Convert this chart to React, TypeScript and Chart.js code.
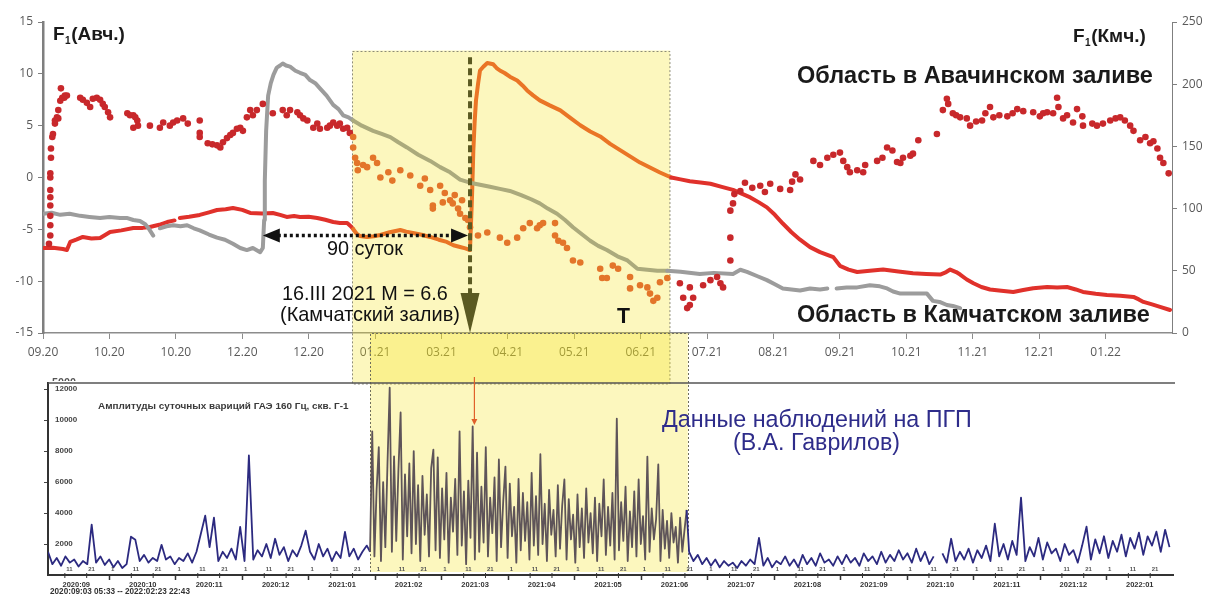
import React, { useEffect, useRef } from 'react';
import { Chart, registerables } from 'chart.js';

Chart.register(...registerables);

// ---------- top chart: axes ----------
const topMonthLabels = ['09.20', '10.20', '10.20', '12.20', '12.20', '01.21', '03.21', '04.21', '05.21', '06.21', '07.21', '08.21', '09.21', '10.21', '11.21', '12.21', '01.22'];
const leftAxisRange = [-15, 15];
const rightAxisRange = [0, 250];

// highlighted periods (month index units)
const topBoxRange = [4.66, 9.44];
const bottomBoxRange = [4.92, 9.7];
const quakeMonth = 6.43;

// ---------- top chart: series ----------
// F1 Avacha, red dots (left axis)
const avachaDots: [number, number][] = [
  [0.09, -6.4], [0.11, -5.6], [0.11, -4.6], [0.11, -3.7], [0.11, -2.7], [0.11, -1.9], [0.11, -1.2], [0.11, 0.0], [0.11, 0.4], [0.12, 1.9], [0.12, 2.8], [0.14, 3.9], [0.15, 4.2], [0.18, 5.2], [0.18, 5.5], [0.21, 5.8], [0.23, 5.7], [0.23, 6.5], [0.26, 7.4], [0.29, 7.7], [0.27, 8.6], [0.32, 7.7], [0.33, 7.9], [0.36, 7.9],
  [0.56, 7.7], [0.6, 7.5], [0.66, 7.2], [0.71, 6.8], [0.75, 7.6], [0.81, 7.7], [0.86, 7.5], [0.9, 7.1], [0.93, 6.8], [0.98, 6.3], [1.01, 5.8],
  [1.27, 6.2], [1.31, 6.0], [1.36, 6.0], [1.36, 4.8], [1.39, 5.8], [1.42, 5.5], [1.43, 5.0], [1.61, 5.0], [1.76, 4.8], [1.81, 5.3], [1.91, 5.0], [1.96, 5.3], [2.02, 5.5], [2.11, 5.7], [2.18, 5.2], [2.36, 5.5], [2.36, 4.3], [2.36, 3.9],
  [2.48, 3.3], [2.55, 3.2], [2.62, 3.1], [2.67, 2.9], [2.71, 3.4], [2.77, 3.8], [2.82, 4.1], [2.86, 4.3], [2.92, 4.7], [2.97, 4.8], [3.01, 4.5], [3.07, 5.8], [3.12, 6.5], [3.16, 6.0], [3.22, 6.5], [3.31, 7.1],
  [3.46, 6.2], [3.61, 6.5], [3.67, 6.0], [3.72, 6.5], [3.83, 6.3], [3.87, 6.0], [3.92, 5.7], [3.98, 5.5], [4.07, 4.8], [4.13, 5.2], [4.17, 4.7], [4.28, 4.8], [4.32, 5.0], [4.37, 5.3], [4.43, 5.0], [4.47, 5.2], [4.52, 4.7], [4.58, 4.8], [4.62, 4.3],
  [4.67, 3.9], [4.67, 2.9], [4.7, 1.9], [4.73, 1.4], [4.74, 0.7], [4.82, 1.2], [4.88, 1.0], [4.97, 1.9], [5.03, 1.4], [5.08, 0.0], [5.2, 0.5], [5.26, -0.3],
  [5.38, 0.7], [5.53, 0.2], [5.68, -0.8], [5.75, -0.1], [5.83, -1.2], [5.87, -2.7], [5.87, -3.0], [5.98, -0.8], [6.02, -2.4], [6.05, -1.5], [6.13, -2.2], [6.17, -2.5], [6.2, -1.7], [6.25, -3.0], [6.28, -3.5], [6.31, -2.2], [6.36, -3.9], [6.4, -4.1], [6.43, -4.8],
  [6.55, -5.6], [6.69, -5.3], [6.88, -5.8], [6.99, -6.3], [7.14, -5.8], [7.23, -4.9], [7.33, -4.4], [7.44, -4.9], [7.48, -4.6], [7.53, -4.4], [7.71, -4.4], [7.71, -5.6], [7.76, -6.1], [7.83, -6.3], [7.89, -6.8], [7.98, -8.0], [8.09, -8.2], [8.39, -8.8], [8.42, -9.7], [8.49, -9.7], [8.58, -8.5], [8.66, -8.8], [8.84, -9.6], [8.84, -10.7], [8.99, -10.4], [9.1, -10.6], [9.14, -11.2], [9.19, -11.9], [9.25, -11.6], [9.29, -10.1], [9.4, -9.7],
  [9.59, -10.2], [9.64, -11.6], [9.74, -10.6], [9.79, -11.6], [9.7, -12.6], [9.74, -12.3], [9.94, -10.4], [10.05, -9.9], [10.15, -9.6], [10.2, -10.2], [10.24, -10.6], [10.35, -8.0], [10.35, -5.8], [10.35, -3.2], [10.39, -2.5], [10.41, -1.6],
  [10.5, -1.3], [10.57, -0.5], [10.68, -1.0], [10.8, -0.8], [10.87, -1.4], [10.95, -0.6], [11.1, -1.1], [11.25, -1.2], [11.28, -0.4], [11.33, 0.3], [11.4, -0.2],
  [11.6, 1.6], [11.7, 1.2], [11.81, 1.9], [11.9, 2.2], [12.0, 2.4], [12.05, 1.6], [12.11, 1.0], [12.15, 0.5], [12.26, 0.7], [12.35, 0.5], [12.38, 1.2], [12.56, 1.6], [12.64, 1.9], [12.71, 2.9], [12.79, 2.6], [12.86, 1.5], [12.91, 1.4], [12.95, 1.9], [13.06, 2.1], [13.1, 2.3], [13.18, 3.6], [13.46, 4.2], [13.55, 6.5], [13.61, 7.6], [13.63, 7.1], [13.7, 6.2], [13.75, 6.0], [13.81, 5.8], [13.91, 5.7], [13.96, 5.0], [14.05, 5.4], [14.14, 5.5], [14.19, 6.2], [14.26, 6.8], [14.31, 5.8], [14.4, 6.0], [14.52, 5.9], [14.6, 6.2], [14.67, 6.6], [14.76, 6.4], [14.91, 6.3], [15.01, 5.9], [15.06, 6.2], [15.12, 6.3], [15.21, 6.2], [15.27, 7.7], [15.29, 6.8], [15.36, 5.7], [15.42, 6.0], [15.51, 5.3], [15.57, 6.6], [15.65, 5.9], [15.66, 5.0], [15.8, 5.2], [15.87, 5.0], [15.96, 5.2], [16.07, 5.5], [16.15, 5.7], [16.22, 5.8], [16.29, 5.5], [16.37, 5.0], [16.42, 4.5], [16.52, 3.6], [16.6, 3.9], [16.67, 3.3], [16.72, 3.5], [16.78, 2.8], [16.82, 1.9], [16.87, 1.4], [16.95, 0.4],
];

// gray line (left axis)
const grayLine: [number, number | null][] = [
  [0, -3.5], [0.13, -3.4], [0.26, -3.6], [0.4, -3.5], [0.56, -3.7], [0.7, -3.8], [0.86, -3.9], [1.0, -3.8], [1.16, -3.9], [1.26, -3.9], [1.36, -4.1], [1.46, -4.2], [1.54, -4.5], [1.6, -5.0], [1.66, -5.6], [1.7, null], [1.76, -4.9], [1.86, -4.7], [1.96, -4.6], [2.07, -4.7], [2.17, -4.6], [2.27, -4.9], [2.36, -5.1], [2.5, -5.5], [2.62, -5.8], [2.74, -6.0], [2.86, -6.4], [2.97, -6.8], [3.07, -7.0], [3.16, -6.8], [3.27, -7.2], [3.31, -6.8],
  [3.33, -4.1], [3.34, -0.3], [3.36, 4.5], [3.39, 7.9], [3.43, 9.1], [3.47, 9.9], [3.52, 10.6], [3.57, 10.8], [3.61, 11.0], [3.66, 10.8], [3.72, 10.7], [3.8, 10.3], [3.87, 10.1], [3.95, 9.9], [4.02, 9.4], [4.1, 9.1], [4.17, 8.6], [4.27, 7.9], [4.37, 7.0], [4.45, 6.6], [4.52, 6.0], [4.6, 5.8], [4.67, 5.5],
  [4.8, 5.0], [4.97, 4.5], [5.1, 4.2], [5.23, 3.9], [5.35, 3.4], [5.48, 2.9], [5.65, 2.2], [5.83, 1.6], [5.98, 1.0], [6.13, 0.5], [6.28, -0.2], [6.43, -0.5], [6.58, -0.7], [6.73, -0.9], [6.88, -1.1], [7.03, -1.3], [7.2, -1.7], [7.35, -2.1], [7.48, -2.5], [7.6, -3.0], [7.74, -3.5], [7.86, -4.1], [7.98, -4.8], [8.1, -5.4], [8.24, -6.1], [8.36, -6.6], [8.49, -7.0], [8.65, -7.6], [8.8, -8.0], [8.95, -8.8], [9.1, -8.9], [9.25, -9.0], [9.4, -9.0],
  [9.6, -9.1], [9.89, -9.3], [10.1, -9.2], [10.39, -9.3], [10.5, -8.9], [10.6, -9.1], [10.75, -9.5], [10.9, -9.9], [11.02, -10.3], [11.14, -10.7], [11.27, -10.8], [11.4, -10.9], [11.55, -10.7], [11.7, -10.8], [11.81, -10.7], [11.88, null], [11.95, -10.7], [12.1, -10.6], [12.26, -10.6], [12.45, -10.4], [12.6, -10.5], [12.71, -10.7], [12.8, -11.0], [12.91, -11.2], [13.1, -11.2], [13.31, -11.2], [13.4, -11.9], [13.5, -12.0], [13.61, -12.3], [13.7, -12.4], [13.81, -12.6],
];

// red line (right axis)
const redLine: [number, number | null][] = [
  [0, 68.3], [0.15, 68.5], [0.3, 67.5], [0.36, 66.7], [0.41, 73.2], [0.5, 75], [0.6, 77.2], [0.73, 76], [0.86, 76.4], [1.01, 81.2], [1.18, 82.5], [1.36, 84.4], [1.5, 84.5], [1.61, 85.2], [1.75, 87], [1.87, 89.2], [1.98, 90.5], [2.02, null], [2.06, 92.5], [2.2, 93.5], [2.36, 94.9], [2.5, 97], [2.62, 98.9], [2.75, 99.5], [2.86, 100.5], [3.0, 99], [3.12, 96.5], [3.3, 96], [3.46, 96.5], [3.57, 95], [3.67, 93.3], [3.78, 94], [3.87, 93.3], [4.0, 93.5], [4.13, 92.5], [4.25, 91], [4.37, 89.2], [4.47, 88.5], [4.58, 88.4], [4.63, 86],
  [4.67, 83.6], [4.72, 80], [4.77, 78.0], [4.88, 77.2], [4.98, 77.8], [5.08, 78.8], [5.22, 81], [5.38, 82.8], [5.47, 81.5], [5.57, 80.4], [5.7, 79], [5.83, 77.2], [5.96, 75], [6.08, 73.2], [6.18, 70.5], [6.28, 69.1], [6.36, 68], [6.43, 66.7],
  [6.46, 110], [6.48, 147], [6.5, 170], [6.52, 187], [6.55, 200], [6.58, 211], [6.63, 214], [6.69, 217], [6.78, 216], [6.83, 213], [6.88, 211], [6.95, 209], [7.03, 206], [7.14, 203], [7.22, 199], [7.29, 195], [7.38, 191], [7.48, 187], [7.63, 183], [7.79, 179], [7.94, 173], [8.09, 167], [8.24, 162], [8.39, 158], [8.54, 152], [8.69, 147], [8.84, 142], [8.99, 137], [9.14, 133], [9.29, 129], [9.46, 125],
  [9.6, 123.5], [9.74, 122], [9.9, 121], [10.05, 120], [10.22, 117.5], [10.39, 115], [10.52, 112], [10.65, 109], [10.78, 105], [10.9, 101], [11.02, 95], [11.14, 88], [11.27, 81], [11.4, 75], [11.55, 69], [11.7, 65], [11.8, 63], [11.9, 61], [12.0, 54], [12.13, 51], [12.26, 49], [12.45, 50], [12.65, 51], [12.88, 49.5], [13.1, 48], [13.3, 47.5], [13.51, 47], [13.6, 49], [13.66, 51], [13.75, 49], [13.81, 47], [13.91, 43], [14.01, 40], [14.13, 37], [14.26, 35], [14.43, 34], [14.61, 33], [14.76, 34.5], [14.91, 36], [15.12, 37], [15.27, 36.5], [15.42, 37], [15.55, 35], [15.66, 33], [15.85, 31.5], [16.02, 30.5], [16.22, 30], [16.42, 29], [16.5, 27], [16.57, 25], [16.7, 23], [16.82, 21], [16.97, 18.5],
];

// ---------- bottom chart ----------
const gaeMonthLabels = ['2020:09', '2020:10', '2020:11', '2020:12', '2021:01', '2021:02', '2021:03', '2021:04', '2021:05', '2021:06', '2021:07', '2021:08', '2021:09', '2021:10', '2021:11', '2021:12', '2022:01'];
const gaeYTicks = [2000, 4000, 6000, 8000, 10000, 12000];
const gaeStartMonth = 0.075; // 2020-09-03
const daysPerMonth = 30.44;
// every 2 days, 2020-09-03 .. 2021-01-27
const gaeBefore = [
  1500, 700, 1100, 600, 1200, 800, 1000, 550, 900, 700, 3250, 800, 1200, 650, 1000, 500, 900, 450, 700, 2470,
  2270, 900, 1300, 800, 1100, 900, 1950, 1000, 1200, 700, 1100, 900, 1400, 800, 1500, 2660, 3830, 1800, 3700, 900,
  1500, 1100, 1700, 1000, 3110, 900, 7720, 1000, 1600, 1200, 2000, 1100, 2340, 1300, 1800, 900, 1600, 1200, 1900, 2860,
  1500, 1000, 2000, 1200, 1700, 900, 1500, 1100, 2790, 1200, 1700, 1000, 1500, 1900,
];
// daily, highlighted period
const gaeBox = [
  1500, 9280, 1200, 5500, 8250, 900, 6000, 1800, 7270, 12100, 1500, 7660, 2200, 6800, 10500, 1000, 6500, 2500, 7200, 1400,
  8000, 2000, 5800, 900, 6400, 2600, 5200, 1200, 6900, 8100, 1600, 7600, 1100, 5600, 2300, 6600, 800, 5000, 2800, 6200,
  1300, 9280, 1900, 5400, 700, 6100, 2400, 9600, 1000, 7900, 1500, 5700, 2100, 8250, 1200, 5000, 2700, 6300, 900, 7460,
  1800, 4800, 7000, 1100, 5900, 2500, 4400, 800, 6200, 1600, 5300, 2200, 4700, 1000, 6600, 1900, 5100, 1300, 7800, 2000,
  4600, 900, 5500, 2600, 4200, 1200, 5800, 1700, 4500, 6170, 1000, 4900, 2300, 3900, 800, 5200, 1800, 4300, 1100, 5600,
  2100, 4000, 1400, 5000, 900, 4600, 2500, 6170, 1300, 4400, 1900, 5300, 1000, 10100, 1600, 4700, 2200, 5700, 900, 4100,
  1800, 5400, 1200, 6170, 2000, 3800, 1000, 7650, 1500, 4300, 2300, 3600, 7140, 900, 4200, 1700, 3500, 1100, 4000, 2100,
  3100, 800, 3700, 1500, 2900, 4200,
];
// every 2 days, after the highlighted period
const gaeAfter: (number | null)[] = [
  1500, 900, 1300, 700, 1100, 600, 1000, 500, 900, 600, 800, 450, 900, 600, 1000, 700, 2400, 600, 1100, 500,
  900, 700, 1200, 600, 1000, 500, 1300, 700, 1100, 600, 1400, 800, 1000, 600, 1200, 700, 1300, 800, 1100, 600,
  1400, 900, 1200, 700, 1500, 800, 1300, 900, 1600, 1000, 1400, 800, 1700, 900, 1500, 700, 1200, null, 1400, 800,
  2340, 900, 1500, 1000, 1700, 800, 1600, 1100, 1900, 900, 3310, 1200, 2000, 1000, 2200, 1300, 5000, 900, 1800, 1200,
  2400, 1000, 2100, 1400, 1700, 900, 2000, 1300, 1600, 800, 1900, 3120, 1000, 2300, 1400, 2500, 1100, 2200, 1500, 2600,
  1200, 2400, 1700, 2730, 1300, 2500, 1900, 2800, 1500, 2920, 1800,
];

// ---------- colours ----------
const RED_DOT = '#c8282b';
const ORANGE_DOT = '#e3752a';
const RED_LINE = '#e0312b';
const ORANGE_LINE = '#ea7526';
const GRAY_LINE = '#9c9c9c';
const OLIVE_LINE = '#abaa7c';
const BOX_FILL = 'rgba(245,226,23,0.28)';
const NAVY = '#2c2a80';
const BOX_NAVY = '#5e5459';
const FONT = "'Liberation Sans', Arial, sans-serif";
const TICK_FONT = "'Open Sans', sans-serif";

function fitText(ctx: CanvasRenderingContext2D, text: string, x: number, baseline: number, width: number, weight: string, color: string) {
  ctx.font = `${weight} 20px ${FONT}`;
  const w = ctx.measureText(text).width;
  const size = (20 * width) / w;
  ctx.font = `${weight} ${size.toFixed(2)}px ${FONT}`;
  ctx.fillStyle = color;
  ctx.textAlign = 'left';
  ctx.textBaseline = 'alphabetic';
  ctx.fillText(text, x, baseline);
}

function drawF1(ctx: CanvasRenderingContext2D, rest: string, x: number, baseline: number) {
  ctx.fillStyle = '#1a1a1a';
  ctx.textAlign = 'left';
  ctx.textBaseline = 'alphabetic';
  ctx.font = `bold 19px ${FONT}`;
  ctx.fillText('F', x, baseline);
  let cx = x + ctx.measureText('F').width + 0.5;
  ctx.font = `bold 10px ${FONT}`;
  ctx.fillText('1', cx, baseline + 4);
  cx += ctx.measureText('1').width + 0.5;
  ctx.font = `bold 19px ${FONT}`;
  ctx.fillText(rest, cx, baseline);
}

const inTopBox = (v: number) => v >= topBoxRange[0] && v <= topBoxRange[1];
const inBottomBox = (v: number) => v >= bottomBoxRange[0] && v <= bottomBoxRange[1];

const topPlugin = {
  id: 'topDecor',
  beforeDatasetsDraw(chart: any) {
    const { ctx, chartArea, scales } = chart;
    const x0 = scales.x.getPixelForValue(topBoxRange[0]);
    const x1 = scales.x.getPixelForValue(topBoxRange[1]);
    const y0 = scales.y.getPixelForValue(12.25);
    const y1 = chartArea.bottom + 50;
    ctx.save();
    ctx.fillStyle = BOX_FILL;
    ctx.fillRect(x0, y0, x1 - x0, y1 - y0);
    ctx.setLineDash([2, 2]);
    ctx.strokeStyle = '#8d8c78';
    ctx.lineWidth = 1;
    ctx.strokeRect(Math.round(x0) + 0.5, Math.round(y0) + 0.5, x1 - x0, y1 - y0);
    ctx.restore();
  },
  afterDatasetsDraw(chart: any) {
    const { ctx, chartArea, scales } = chart;
    const { x, y } = scales;
    ctx.save();
    // earthquake dashed arrow
    const qx = x.getPixelForValue(quakeMonth);
    const qTop = y.getPixelForValue(11.6);
    const headTop = chartArea.bottom - 40;
    ctx.strokeStyle = '#5b5a22';
    ctx.lineWidth = 4;
    ctx.setLineDash([7, 4]);
    ctx.beginPath();
    ctx.moveTo(qx, qTop);
    ctx.lineTo(qx, headTop);
    ctx.stroke();
    ctx.setLineDash([]);
    ctx.fillStyle = '#5b5a22';
    ctx.beginPath();
    ctx.moveTo(qx - 9.5, headTop);
    ctx.lineTo(qx + 9.5, headTop);
    ctx.lineTo(qx, chartArea.bottom);
    ctx.closePath();
    ctx.fill();

    // 90 days arrow
    const ay = y.getPixelForValue(-5.6);
    const ax0 = x.getPixelForValue(3.31);
    const ax1 = x.getPixelForValue(6.4);
    ctx.strokeStyle = '#111';
    ctx.lineWidth = 3.5;
    ctx.setLineDash([3, 3]);
    ctx.beginPath();
    ctx.moveTo(ax0 + 15, ay);
    ctx.lineTo(ax1 - 15, ay);
    ctx.stroke();
    ctx.setLineDash([]);
    ctx.fillStyle = '#111';
    ctx.beginPath();
    ctx.moveTo(ax0, ay);
    ctx.lineTo(ax0 + 17, ay - 7);
    ctx.lineTo(ax0 + 17, ay + 7);
    ctx.closePath();
    ctx.fill();
    ctx.beginPath();
    ctx.moveTo(ax1, ay);
    ctx.lineTo(ax1 - 17, ay - 7);
    ctx.lineTo(ax1 - 17, ay + 7);
    ctx.closePath();
    ctx.fill();

    // texts
    drawF1(ctx, '(Авч.)', 53, 40);
    drawF1(ctx, '(Кмч.)', 1073, 42);
    fitText(ctx, 'Область в Авачинском заливе', 797, 83, 356, 'bold', '#1a1a1a');
    fitText(ctx, 'Область в Камчатском заливе', 797, 322, 353, 'bold', '#1a1a1a');
    fitText(ctx, '90 суток', 327, 255, 76, 'normal', '#111');
    fitText(ctx, '16.III 2021 M = 6.6', 282, 300, 166, 'normal', '#111');
    fitText(ctx, '(Камчатский залив)', 280, 321, 180, 'normal', '#111');
    fitText(ctx, 'T', 617, 323, 13, 'bold', '#111');
    ctx.restore();
  },
};

const bottomPlugin = {
  id: 'bottomDecor',
  beforeDatasetsDraw(chart: any) {
    const { ctx, chartArea, scales } = chart;
    const x0 = scales.x.getPixelForValue(bottomBoxRange[0]);
    const x1 = scales.x.getPixelForValue(bottomBoxRange[1]);
    const y0 = chartArea.top - 50;
    const y1 = chartArea.bottom - 3;
    ctx.save();
    ctx.fillStyle = BOX_FILL;
    ctx.fillRect(x0, y0, x1 - x0, y1 - y0);
    ctx.setLineDash([2, 2]);
    ctx.strokeStyle = '#6f6e5c';
    ctx.lineWidth = 1;
    ctx.beginPath();
    ctx.moveTo(Math.round(x0) + 0.5, y1);
    ctx.lineTo(Math.round(x0) + 0.5, Math.round(y0) + 0.5);
    ctx.lineTo(Math.round(x1) + 0.5, Math.round(y0) + 0.5);
    ctx.lineTo(Math.round(x1) + 0.5, y1);
    ctx.stroke();
    ctx.setLineDash([]);
    // frame top line
    ctx.strokeStyle = '#555';
    ctx.lineWidth = 1.5;
    ctx.beginPath();
    ctx.moveTo(chartArea.left, chartArea.top);
    ctx.lineTo(chartArea.right + 2, chartArea.top);
    ctx.stroke();
    ctx.restore();
  },
  afterDatasetsDraw(chart: any) {
    const { ctx, chartArea, scales } = chart;
    const { x } = scales;
    ctx.save();
    // day ticks and labels
    ctx.font = `bold 6px ${FONT}`;
    ctx.fillStyle = '#555';
    ctx.strokeStyle = '#333';
    ctx.lineWidth = 1;
    ctx.textAlign = 'left';
    ctx.textBaseline = 'middle';
    for (let m = 0; m < 17; m++) {
      [1, 11, 21].forEach((d) => {
        const v = m + (d - 1) / daysPerMonth;
        if (v < gaeStartMonth) return;
        const px = x.getPixelForValue(v);
        if (d !== 1) {
          ctx.beginPath();
          ctx.moveTo(px, chartArea.bottom - 2);
          ctx.lineTo(px, chartArea.bottom + 3);
          ctx.stroke();
        }
        ctx.fillText(String(d), px + 1.5, chartArea.bottom - 6);
      });
    }
    // red arrow
    const rx = x.getPixelForValue(6.49);
    ctx.strokeStyle = '#e0602a';
    ctx.fillStyle = '#e0602a';
    ctx.lineWidth = 1.2;
    ctx.beginPath();
    ctx.moveTo(rx, chartArea.top - 6);
    ctx.lineTo(rx, chartArea.top + 38);
    ctx.stroke();
    ctx.beginPath();
    ctx.moveTo(rx - 3, chartArea.top + 36);
    ctx.lineTo(rx + 3, chartArea.top + 36);
    ctx.lineTo(rx, chartArea.top + 42);
    ctx.closePath();
    ctx.fill();

    // texts
    fitText(ctx, 'Амплитуды суточных вариций ГАЭ 160 Гц, скв. Г-1', 98, chartArea.top + 26, 251, 'bold', '#3a3a3a');
    fitText(ctx, 'Данные наблюдений на ПГП', 662, chartArea.top + 44, 310, 'normal', '#2e2c8a');
    fitText(ctx, '(В.А. Гаврилов)', 733, chartArea.top + 67, 167, 'normal', '#2e2c8a');
    fitText(ctx, '2020:09:03 05:33 -- 2022:02:23 22:43', 50, chartArea.bottom + 19, 140, 'bold', '#333');
    // clipped label above the frame
    ctx.beginPath();
    ctx.rect(0, 0, 300, chartArea.top - 2);
    ctx.clip();
    fitText(ctx, '5000', 52, chartArea.top + 3, 24, 'bold', '#555');
    ctx.restore();
  },
};

export default function App() {
  const topRef = useRef<HTMLCanvasElement>(null);
  const botRef = useRef<HTMLCanvasElement>(null);

  useEffect(() => {
    document.body.style.margin = '0';
    const tickFont = { family: TICK_FONT, size: 12 };

    const topChart = new Chart(topRef.current as HTMLCanvasElement, {
      type: 'scatter',
      data: {
        datasets: [
          {
            label: 'Авача',
            data: avachaDots.map(([vx, vy]) => ({ x: vx, y: vy })),
            yAxisID: 'y',
            showLine: false,
            pointRadius: 3.3,
            pointBorderWidth: 0,
            pointBackgroundColor: (c: any) => (c.raw && inTopBox(c.raw.x) ? ORANGE_DOT : RED_DOT),
          },
          {
            label: 'gray',
            data: grayLine.map(([vx, vy]) => ({ x: vx, y: vy })),
            yAxisID: 'y',
            showLine: true,
            spanGaps: false,
            borderWidth: 4,
            borderColor: GRAY_LINE,
            borderJoinStyle: 'round',
            borderCapStyle: 'round',
            pointRadius: 0,
            tension: 0,
            segment: {
              borderColor: (c: any) => (inTopBox((c.p0.parsed.x + c.p1.parsed.x) / 2) ? OLIVE_LINE : GRAY_LINE),
            },
          },
          {
            label: 'red',
            data: redLine.map(([vx, vy]) => ({ x: vx, y: vy })),
            yAxisID: 'y1',
            showLine: true,
            spanGaps: false,
            borderWidth: 4,
            borderColor: RED_LINE,
            borderJoinStyle: 'round',
            borderCapStyle: 'round',
            pointRadius: 0,
            tension: 0,
            segment: {
              borderColor: (c: any) => (inTopBox((c.p0.parsed.x + c.p1.parsed.x) / 2) ? ORANGE_LINE : RED_LINE),
            },
          },
        ],
      },
      options: {
        animation: false,
        responsive: false,
        devicePixelRatio: 1,
        layout: { padding: { top: 22, left: 0, right: 0, bottom: 0 } },
        plugins: { legend: { display: false }, tooltip: { enabled: false } },
        scales: {
          x: {
            type: 'linear',
            min: 0,
            max: 17,
            afterBuildTicks: (s: any) => {
              s.ticks = topMonthLabels.map((_, i) => ({ value: i }));
            },
            afterFit: (s: any) => {
              s.height = 67;
            },
            ticks: {
              callback: (v: any) => topMonthLabels[Math.round(Number(v))] ?? '',
              color: '#595959',
              font: tickFont,
              padding: 6,
              maxRotation: 0,
              autoSkip: false,
            },
            grid: { drawOnChartArea: false, drawTicks: true, tickLength: 6, tickColor: '#8c8c8c', tickWidth: 1 },
            border: { color: '#8c8c8c', width: 1.5 },
          },
          y: {
            position: 'left',
            min: leftAxisRange[0],
            max: leftAxisRange[1],
            afterFit: (s: any) => {
              s.width = 43;
            },
            ticks: { stepSize: 5, color: '#595959', font: tickFont, padding: 5 },
            grid: { drawOnChartArea: false, drawTicks: true, tickLength: 5, tickColor: '#7f7f7f' },
            border: { color: '#7f7f7f', width: 2.5 },
          },
          y1: {
            position: 'right',
            min: rightAxisRange[0],
            max: rightAxisRange[1],
            afterFit: (s: any) => {
              s.width = 38;
            },
            ticks: { stepSize: 50, color: '#595959', font: tickFont, padding: 5 },
            grid: { drawOnChartArea: false, drawTicks: true, tickLength: 5, tickColor: '#7f7f7f' },
            border: { color: '#7f7f7f', width: 1 },
          },
        },
      },
      plugins: [topPlugin],
    } as any);

    const gaePoints: { x: number; y: number | null }[] = [];
    gaeBefore.forEach((val, i) => gaePoints.push({ x: gaeStartMonth + (2 * i) / daysPerMonth, y: val }));
    gaeBox.forEach((val, i) => gaePoints.push({ x: bottomBoxRange[0] + i / daysPerMonth, y: val }));
    gaeAfter.forEach((val, i) => gaePoints.push({ x: bottomBoxRange[1] + 0.02 + (2 * i) / daysPerMonth, y: val }));

    const botChart = new Chart(botRef.current as HTMLCanvasElement, {
      type: 'scatter',
      data: {
        datasets: [
          {
            label: 'ГАЭ',
            data: gaePoints,
            showLine: true,
            spanGaps: false,
            borderWidth: 1.8,
            borderColor: NAVY,
            borderJoinStyle: 'round',
            pointRadius: 0,
            tension: 0,
            segment: {
              borderColor: (c: any) => (inBottomBox((c.p0.parsed.x + c.p1.parsed.x) / 2) ? BOX_NAVY : NAVY),
            },
          },
        ],
      },
      options: {
        animation: false,
        responsive: false,
        devicePixelRatio: 1,
        layout: { padding: { top: 63, left: 0, right: 37, bottom: 0 } },
        plugins: { legend: { display: false }, tooltip: { enabled: false } },
        scales: {
          x: {
            type: 'linear',
            min: gaeStartMonth,
            max: 17,
            afterBuildTicks: (s: any) => {
              const t: { value: number }[] = [];
              for (let i = 0; i < 17; i++) {
                t.push({ value: i + 0.5 });
                if (i > 0) t.push({ value: i });
              }
              t.sort((a, b) => a.value - b.value);
              s.ticks = t;
            },
            afterFit: (s: any) => {
              s.height = 19;
            },
            ticks: {
              callback: (v: any) => (Number.isInteger(Number(v)) ? '' : gaeMonthLabels[Math.floor(Number(v))]),
              color: '#333',
              font: { family: FONT, size: 7.5, weight: 'bold' },
              padding: 0,
              maxRotation: 0,
              autoSkip: false,
            },
            grid: {
              drawOnChartArea: false,
              drawTicks: true,
              tickLength: 5,
              tickWidth: 1.5,
              tickColor: (c: any) => (c.tick && Number.isInteger(c.tick.value) ? '#333' : 'rgba(0,0,0,0)'),
            },
            border: { color: '#333', width: 2 },
          },
          y: {
            position: 'left',
            min: 0,
            max: 12400,
            afterBuildTicks: (s: any) => {
              s.ticks = gaeYTicks.map((v) => ({ value: v }));
            },
            afterFit: (s: any) => {
              s.width = 48;
            },
            ticks: {
              mirror: true,
              padding: 7,
              color: '#444',
              font: { family: FONT, size: 8, weight: 'bold' },
              callback: (v: any) => String(v),
            },
            grid: { drawOnChartArea: false, drawTicks: true, tickLength: 4, tickColor: '#444' },
            border: { color: '#333', width: 2 },
          },
        },
      },
      plugins: [bottomPlugin],
    } as any);

    return () => {
      topChart.destroy();
      botChart.destroy();
    };
  }, []);

  return (
    <div style={{ position: 'relative', width: 1210, height: 594, overflow: 'hidden', background: '#fff' }}>
      <canvas ref={topRef} width={1210} height={400} style={{ position: 'absolute', left: 0, top: 0, width: 1210, height: 400 }} />
      <canvas ref={botRef} width={1210} height={274} style={{ position: 'absolute', left: 0, top: 320, width: 1210, height: 274 }} />
    </div>
  );
}
